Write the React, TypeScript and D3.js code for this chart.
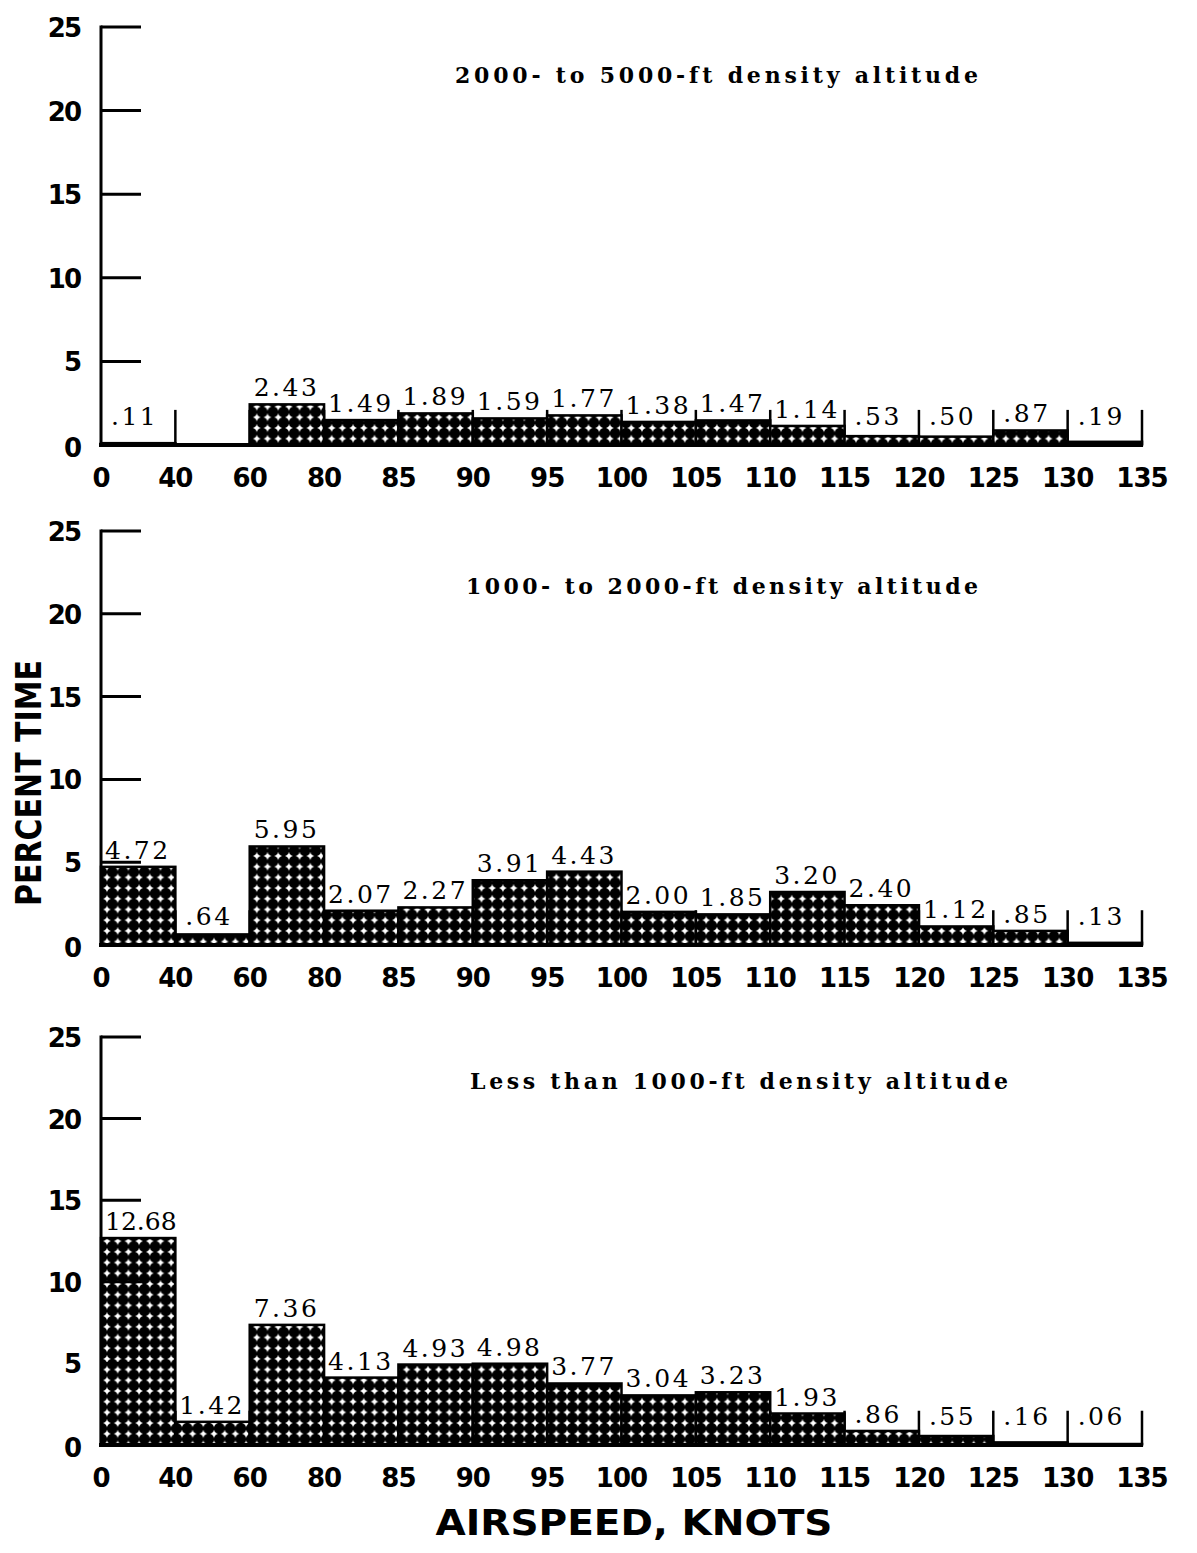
import React from "react";
import * as d3 from "d3";

// Airspeed bin edges (knots) and the bins they form
const binEdges = [0, 40, 60, 80, 85, 90, 95, 100, 105, 110, 115, 120, 125, 130, 135];
const bins = binEdges.slice(0, -1).map((e, i) => `${e}-${binEdges[i + 1]}`);

// Percent time in each airspeed bin, by density altitude band
const high = [0.11, 0, 2.43, 1.49, 1.89, 1.59, 1.77, 1.38, 1.47, 1.14, 0.53, 0.5, 0.87, 0.19];
const mid = [4.72, 0.64, 5.95, 2.07, 2.27, 3.91, 4.43, 2.0, 1.85, 3.2, 2.4, 1.12, 0.85, 0.13];
const low = [12.68, 1.42, 7.36, 4.13, 4.93, 4.98, 3.77, 3.04, 3.23, 1.93, 0.86, 0.55, 0.16, 0.06];

const yTicks = [0, 5, 10, 15, 20, 25];

const titles = [
  "2000- to 5000-ft density altitude",
  "1000- to 2000-ft density altitude",
  "Less than 1000-ft density altitude",
];

const W = 1197;
const H = 1553;
const xLeft = 101;
const xRight = 1142;

const panels = [
  { values: high, title: titles[0], top: 27, bottom: 445, titleX: 455, titleY: 83, titleW: 523 },
  { values: mid, title: titles[1], top: 531, bottom: 945, titleX: 466, titleY: 594, titleW: 512 },
  { values: low, title: titles[2], top: 1037, bottom: 1445, titleX: 470, titleY: 1089, titleW: 538 },
];

const fmt = (v: number) => (v < 1 ? d3.format(".2f")(v).replace(/^0/, "") : d3.format(".2f")(v));

const tickFont = "'DejaVu Sans', sans-serif";
const labelFont = "'DejaVu Serif', 'Liberation Serif', serif";

function Panel({ p }: { p: (typeof panels)[number] }) {
  const x = d3.scaleBand<string>().domain(bins).range([xLeft, xRight]).paddingInner(0).paddingOuter(0);
  const edgeX = d3.scaleLinear().domain([0, bins.length]).range([xLeft, xRight]);
  const y = d3.scaleLinear().domain([0, 25]).range([p.bottom, p.top]);
  const sepLevel = 2.1;

  return (
    <g>
      {/* bin separators for the short bars */}
      {binEdges.slice(1).map((e, i) => (
        <line
          key={`s${e}`}
          x1={edgeX(i + 1)}
          x2={edgeX(i + 1)}
          y1={y(0)}
          y2={y(sepLevel)}
          stroke="#000"
          strokeWidth={2.5}
        />
      ))}
      {/* bars */}
      {p.values.map((v, i) =>
        v > 0 ? (
          <rect
            key={bins[i]}
            x={x(bins[i])!}
            width={x.bandwidth()}
            y={y(v)}
            height={y(0) - y(v)}
            fill="url(#dots)"
            stroke="#000"
            strokeWidth={2.5}
          />
        ) : null
      )}
      {/* value labels */}
      {p.values.map((v, i) => {
        const s = fmt(v);
        return v > 0 ? (
          <text
            key={`l${bins[i]}`}
            x={x(bins[i])! + (v < 1 ? 10 : 4)}
            y={Math.min(y(v) - 8, y(0) - 20)}
            fontFamily={labelFont}
            fontSize={25}
            letterSpacing={s.length > 4 ? 0 : 2.5}
            fill="#000"
          >
            {s}
          </text>
        ) : null;
      })}
      {/* baseline */}
      <line x1={xLeft - 2} x2={xRight + 1} y1={y(0)} y2={y(0)} stroke="#000" strokeWidth={4} />
      {/* y axis */}
      <line x1={xLeft} x2={xLeft} y1={y(0)} y2={y(25) - 1.5} stroke="#000" strokeWidth={3} />
      {yTicks.slice(1).map((t) => (
        <line key={`t${t}`} x1={xLeft} x2={xLeft + 40} y1={y(t)} y2={y(t)} stroke="#000" strokeWidth={3} />
      ))}
      {yTicks.map((t) => (
        <text
          key={`yl${t}`}
          x={80}
          y={y(t) + (t === 0 ? 12 : 10)}
          textAnchor="end"
          fontFamily={tickFont}
          fontWeight="bold"
          fontSize={26}
          letterSpacing={-2}
          fill="#000"
        >
          {t}
        </text>
      ))}
      {/* x tick labels at bin edges */}
      {binEdges.map((e, i) => (
        <text
          key={`xl${e}`}
          x={edgeX(i)}
          y={y(0) + 42}
          textAnchor="middle"
          fontFamily={tickFont}
          fontWeight="bold"
          fontSize={26}
          letterSpacing={-1}
          fill="#000"
        >
          {e}
        </text>
      ))}
      {/* panel title */}
      <text
        x={p.titleX}
        y={p.titleY}
        fontFamily={labelFont}
        fontWeight="bold"
        fontSize={22}
        textLength={p.titleW}
        lengthAdjust="spacing"
        fill="#000"
      >
        {p.title}
      </text>
    </g>
  );
}

export default function App() {
  return (
    <svg
      width={W}
      height={H}
      viewBox={`0 0 ${W} ${H}`}
      style={{ position: "absolute", left: 0, top: 0, background: "#fff", display: "block" }}
    >
      <defs>
        <pattern id="dots" width={10.7} height={10.7} patternUnits="userSpaceOnUse">
          <rect width={10.7} height={10.7} fill="#fff" />
          <circle cx={5.35} cy={5.35} r={5.5} fill="#000" />
        </pattern>
      </defs>
      <rect width={W} height={H} fill="#fff" />
      {panels.map((p) => (
        <Panel key={p.title} p={p} />
      ))}
      <text
        transform="translate(41,783) rotate(-90)"
        textAnchor="middle"
        fontFamily={tickFont}
        fontWeight="bold"
        fontSize={36}
        textLength={246}
        lengthAdjust="spacingAndGlyphs"
        fill="#000"
      >
        PERCENT TIME
      </text>
      <text
        x={634}
        y={1535}
        textAnchor="middle"
        fontFamily={tickFont}
        fontWeight="bold"
        fontSize={35}
        textLength={397}
        lengthAdjust="spacingAndGlyphs"
        fill="#000"
      >
        AIRSPEED, KNOTS
      </text>
    </svg>
  );
}
